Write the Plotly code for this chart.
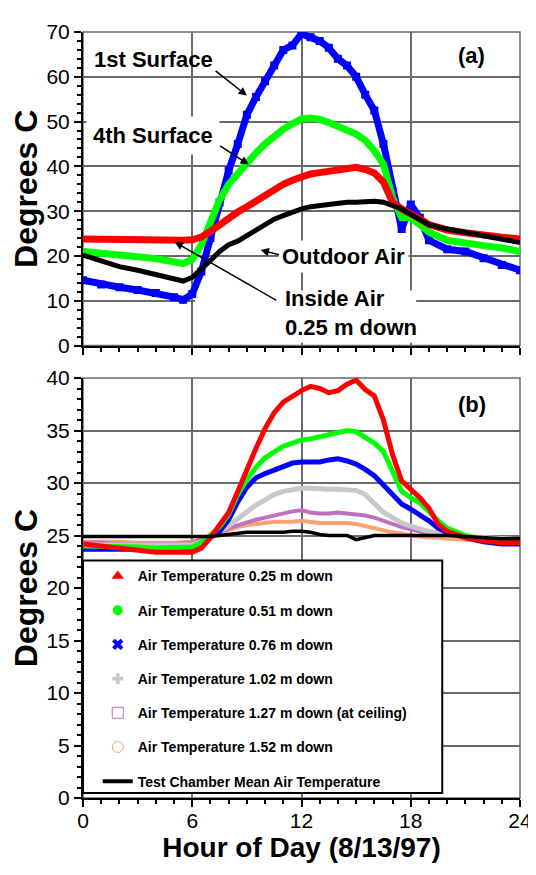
import plotly.graph_objects as go

# ---------------- data: panel (a) ----------------
HOURS_A = [0, 1, 2, 3, 4, 5, 5.5, 6, 6.5, 7, 7.5, 8, 8.5, 9, 9.5, 10, 10.5, 11, 11.5, 12,
           12.5, 13, 13.5, 14, 14.5, 15, 15.5, 16, 16.5, 17, 17.5, 18, 18.5, 19, 20, 21, 22, 23, 24]
SURFACE_1 = [14.6, 13.6, 13.0, 12.4, 11.7, 10.8, 10.2, 11.5, 16.5, 24.0, 32.0, 39.0, 45.0, 51.5,
             55.5, 59.0, 62.5, 66.0, 67.0, 69.6, 68.8, 68.0, 66.5, 64.0, 62.5, 60.0, 56.0, 52.5,
             45.0, 34.5, 26.0, 31.5, 28.5, 23.5, 21.5, 21.0, 19.5, 18.0, 16.8]
SURFACE_4 = [21.0, 20.5, 20.1, 19.8, 19.4, 18.7, 18.3, 19.2, 22.5, 27.5, 32.5, 36.0, 38.5, 41.0,
             43.0, 45.0, 46.8, 48.3, 49.5, 50.6, 50.8, 50.5, 49.8, 49.0, 48.3, 47.2, 45.8, 43.5,
             40.5, 33.0, 28.5, 28.5, 27.0, 25.3, 23.5, 22.8, 22.3, 21.8, 21.0]
INSIDE_AIR = [23.8, 23.7, 23.6, 23.5, 23.5, 23.5, 23.5, 23.6, 24.2, 25.5, 27.0, 28.3, 29.8, 31.0,
              32.3, 33.6, 34.8, 36.0, 36.9, 37.8, 38.3, 38.6, 38.9, 39.0, 39.4, 39.8, 39.3, 38.5,
              36.5, 32.0, 30.5, 29.5, 28.3, 27.0, 25.8, 25.2, 24.6, 24.2, 23.8]
OUTDOOR_AIR = [20.2, 18.8, 17.6, 16.8, 15.8, 14.7, 14.4, 15.2, 17.0, 19.0, 21.0, 22.5, 23.3, 24.5,
               25.8, 27.0, 28.2, 29.0, 29.8, 30.5, 31.0, 31.3, 31.5, 31.8, 32.0, 32.0, 32.2, 32.2,
               32.0, 31.2, 30.5, 29.3, 28.2, 27.0, 26.0, 25.3, 24.5, 23.8, 23.0]

# ---------------- data: panel (b) ----------------
HOURS_B = [0, 1, 2, 3, 4, 5, 6, 6.5, 7, 7.5, 8, 8.5, 9, 9.5, 10, 10.5, 11, 11.5, 12, 12.5,
           13, 13.5, 14, 14.5, 15, 15.5, 16, 16.5, 17, 17.5, 18, 18.5, 19, 19.5, 20, 21, 22, 23, 24]
T_025 = [24.2, 24.0, 23.8, 23.5, 23.4, 23.4, 23.4, 23.8, 24.8, 26.0, 27.2, 29.2, 31.4, 33.3, 35.2,
         36.7, 37.7, 38.3, 38.8, 39.2, 39.0, 38.6, 38.8, 39.4, 39.8, 38.9, 38.3, 36.0, 32.7, 30.2,
         29.4, 28.6, 27.6, 26.1, 25.4, 24.8, 24.5, 24.3, 24.3]
T_051 = [24.0, 24.0, 23.9, 23.9, 23.8, 23.8, 23.9, 24.3, 25.0, 25.8, 27.0, 28.9, 30.3, 31.5, 32.4,
         33.0, 33.5, 33.8, 34.1, 34.2, 34.4, 34.5, 34.7, 35.0, 34.9, 34.4, 33.8, 33.0, 31.0, 29.2,
         28.6, 28.1, 27.3, 26.4, 25.7, 25.0, 24.6, 24.4, 24.4]
T_076 = [23.7, 23.7, 23.7, 23.6, 23.6, 23.6, 23.7, 24.2, 24.8, 25.4, 26.5, 28.2, 29.6, 30.5, 30.9,
         31.2, 31.6, 31.9, 32.0, 32.0, 32.0, 32.2, 32.3, 32.1, 31.8, 31.3, 30.7, 29.8, 28.9, 28.0,
         27.5, 27.0, 26.4, 25.7, 25.3, 24.8, 24.4, 24.2, 24.2]
T_102 = [24.1, 24.1, 24.1, 24.0, 24.0, 24.0, 24.1, 24.4, 24.9, 25.3, 25.9, 26.6, 27.3, 27.9, 28.4,
         28.9, 29.2, 29.4, 29.5, 29.5, 29.4, 29.4, 29.4, 29.4, 29.3, 28.9, 28.0, 27.2, 26.7, 26.2,
         25.9, 25.6, 25.4, 25.2, 25.0, 24.9, 24.8, 24.7, 24.6]
T_127 = [24.3, 24.3, 24.2, 24.2, 24.2, 24.2, 24.3, 24.6, 25.0, 25.3, 25.7, 26.0, 26.3, 26.5, 26.7,
         26.9, 27.1, 27.3, 27.4, 27.2, 27.1, 27.1, 27.2, 27.1, 27.0, 26.9, 26.7, 26.4, 26.0, 25.8,
         25.6, 25.4, 25.2, 25.1, 25.0, 24.9, 24.8, 24.6, 24.5]
T_152 = [24.4, 24.4, 24.4, 24.3, 24.3, 24.3, 24.4, 24.7, 25.0, 25.3, 25.6, 25.8, 26.0, 26.1, 26.2,
         26.3, 26.3, 26.3, 26.4, 26.3, 26.2, 26.2, 26.2, 26.2, 26.1, 25.9, 25.7, 25.5, 25.3, 25.2,
         25.0, 24.9, 24.8, 24.8, 24.7, 24.6, 24.5, 24.4, 24.4]
T_MEAN = [24.9, 24.9, 24.9, 24.9, 24.9, 24.9, 24.9, 24.9, 24.9, 25.0, 25.1, 25.2, 25.3, 25.3, 25.3,
          25.3, 25.3, 25.4, 25.4, 25.3, 25.1, 25.0, 25.0, 25.0, 24.6, 24.8, 25.0, 25.0, 25.0, 25.0,
          25.0, 25.0, 25.0, 25.0, 25.0, 24.9, 24.8, 24.7, 24.7]

LEGEND_NAMES = ["Air Temperature 0.25 m down", "Air Temperature 0.51 m down",
                "Air Temperature 0.76 m down", "Air Temperature 1.02 m down",
                "Air Temperature 1.27 m down (at ceiling)", "Air Temperature 1.52 m down",
                "Test Chamber Mean Air Temperature"]
X_TICKS = [0, 6, 12, 18, 24]

FONT = "Arial, Liberation Sans, sans-serif"
GRID = "#6a6a6a"

fig = go.Figure()

# ---- panel (a) traces ----
fig.add_trace(go.Scatter(x=HOURS_A, y=SURFACE_1, mode="lines+markers",
                         line=dict(color="#0000ff", width=7),
                         marker=dict(symbol="square", size=8, color="#0000ff"),
                         showlegend=False, xaxis="x", yaxis="y"))
fig.add_trace(go.Scatter(x=HOURS_A, y=SURFACE_4, mode="lines",
                         line=dict(color="#00ff00", width=7),
                         showlegend=False, xaxis="x", yaxis="y"))
fig.add_trace(go.Scatter(x=HOURS_A, y=INSIDE_AIR, mode="lines",
                         line=dict(color="#ff0000", width=7),
                         showlegend=False, xaxis="x", yaxis="y"))
fig.add_trace(go.Scatter(x=HOURS_A, y=OUTDOOR_AIR, mode="lines",
                         line=dict(color="#000000", width=5),
                         showlegend=False, xaxis="x", yaxis="y"))

# ---- panel (b) traces ----
b_series = [
    (T_152, "#ffa070", 4),
    (T_127, "#c070c0", 4),
    (T_102, "#c8c8c8", 5),
    (T_076, "#0000ff", 5),
    (T_051, "#00ff00", 5),
    (T_025, "#ff0000", 5),
    (T_MEAN, "#000000", 3.5),
]
for ys, col, w in b_series:
    fig.add_trace(go.Scatter(x=HOURS_B, y=ys, mode="lines", line=dict(color=col, width=w),
                             showlegend=False, xaxis="x2", yaxis="y2"))

# ---- legend entries ----
legend_styles = [
    dict(mode="markers", marker=dict(symbol="triangle-up", size=11, color="#ff0000")),
    dict(mode="markers", marker=dict(symbol="circle", size=10, color="#00ff00")),
    dict(mode="markers", marker=dict(symbol="x", size=10, color="#0000ff")),
    dict(mode="markers", marker=dict(symbol="cross", size=9, color="#c8c8c8")),
    dict(mode="markers", marker=dict(symbol="square-open", size=11, color="#c070c0",
                                     line=dict(width=1))),
    dict(mode="markers", marker=dict(symbol="circle-open", size=11, color="#ffa070",
                                     line=dict(width=1))),
    dict(mode="lines", line=dict(color="#000000", width=4)),
]
for i, (name, st) in enumerate(zip(LEGEND_NAMES, legend_styles)):
    fig.add_trace(go.Scatter(x=[None], y=[None], name=name, legendgroup=f"g{i}",
                             showlegend=True, xaxis="x2", yaxis="y2", **st))

axis_common = dict(
    showline=True, linecolor="black", linewidth=2,
    ticks="outside", ticklen=7, tickwidth=1.5, tickcolor="black",
    showgrid=True, gridcolor=GRID, gridwidth=1.5, zeroline=False,
    tickfont=dict(size=21, family=FONT, color="black"),
)

fig.update_layout(
    width=536, height=875,
    margin=dict(l=70, r=22, t=13, b=85),
    paper_bgcolor="white", plot_bgcolor="white",
    font=dict(family=FONT, color="black"),
    xaxis=dict(domain=[0, 1], anchor="y", range=[0, 24], tickvals=X_TICKS,
               showticklabels=False,
               minor=dict(dtick=1, ticks="outside", ticklen=4, tickcolor="black", showgrid=False),
               **axis_common),
    yaxis=dict(domain=[0.5907, 1], anchor="x", range=[0, 70], dtick=10,
               minor=dict(dtick=2, ticks="outside", ticklen=4, tickcolor="black", showgrid=False),
               title=dict(text="Degrees C", font=dict(size=32, weight="bold", family=FONT),
                          standoff=4),
               **axis_common),
    xaxis2=dict(domain=[0, 1], anchor="y2", range=[0, 24], tickvals=X_TICKS,
                ticktext=[str(t) for t in X_TICKS], ticklabelstandoff=-4,
                minor=dict(dtick=1, ticks="outside", ticklen=4, tickcolor="black", showgrid=False),
                title=dict(text="Hour of Day (8/13/97)", font=dict(size=28, weight="bold", family=FONT),
                           standoff=2),
                **axis_common),
    yaxis2=dict(domain=[0, 0.5483], anchor="x2", range=[0, 40], dtick=5,
                minor=dict(dtick=1, ticks="outside", ticklen=4, tickcolor="black", showgrid=False),
                title=dict(text="Degrees C", font=dict(size=32, weight="bold", family=FONT),
                           standoff=4),
                **axis_common),
    legend=dict(x=(93 - 78) / 444, y=(798 - 557) / 777, xanchor="left", yanchor="top",
                bgcolor="rgba(0,0,0,0)", borderwidth=0, traceorder="grouped",
                tracegroupgap=13, font=dict(size=14, weight="bold", family=FONT, color="black")),
)

shapes = [
    # grey frames (top / right edges)
    dict(type="rect", xref="x domain", yref="y domain", x0=0, x1=1, y0=0, y1=1,
         line=dict(color=GRID, width=1.5), layer="below"),
    dict(type="rect", xref="x2 domain", yref="y2 domain", x0=0, x1=1, y0=0, y1=1,
         line=dict(color=GRID, width=1.5), layer="below"),
    # white area behind the "Inside Air" label
    dict(type="rect", xref="x", yref="y", x0=6.15, x1=18.3, y0=0.6, y1=12.3,
         fillcolor="white", line=dict(width=0), layer="between"),
    # legend box
    dict(type="rect", xref="paper", yref="paper", x0=0.0, x1=(443 - 78) / 444,
         y0=(798 - 793) / 777, y1=(798 - 557) / 777,
         fillcolor="white", line=dict(color="black", width=2), layer="above"),
]
fig.update_layout(shapes=shapes)

lab_font = dict(size=22, weight="bold", family=FONT, color="black")
ann = [
    dict(x=3.88, y=63.8, xref="x", yref="y", text="1st Surface", showarrow=False, font=lab_font),
    dict(x=9.0, y=55.8, ax=7.2, ay=61.6, xref="x", yref="y", axref="x", ayref="y", text="",
         showarrow=True, arrowhead=2, arrowsize=1.1, arrowwidth=1.5, arrowcolor="black"),
    dict(x=3.85, y=46.8, xref="x", yref="y", text="4th Surface", showarrow=False, font=lab_font,
         bgcolor="white", borderpad=6),
    dict(x=9.1, y=40.4, ax=7.45, ay=44.8, xref="x", yref="y", axref="x", ayref="y", text="",
         showarrow=True, arrowhead=2, arrowsize=1.1, arrowwidth=1.5, arrowcolor="black"),
    dict(x=14.33, y=19.8, xref="x", yref="y", text="Outdoor Air", showarrow=False, font=lab_font,
         bgcolor="white", borderpad=3),
    dict(x=9.76, y=21.3, ax=10.85, ay=20.2, xref="x", yref="y", axref="x", ayref="y", text="",
         showarrow=True, arrowhead=2, arrowsize=1.1, arrowwidth=1.5, arrowcolor="black"),
    dict(x=11.0, y=7.2, xref="x", yref="y", text="Inside Air<br>0.25 m down", showarrow=False,
         font=lab_font, xanchor="left", align="left"),
    dict(x=5.04, y=23.1, ax=10.7, ay=9.9, xref="x", yref="y", axref="x", ayref="y", text="",
         showarrow=True, arrowhead=2, arrowsize=1.1, arrowwidth=1.5, arrowcolor="black"),
    dict(x=21.35, y=64.8, xref="x", yref="y", text="(a)", showarrow=False, font=lab_font),
    dict(x=21.35, y=37.5, xref="x2", yref="y2", text="(b)", showarrow=False, font=lab_font),
]
fig.update_layout(annotations=ann)

fig.write_html("out.html")
